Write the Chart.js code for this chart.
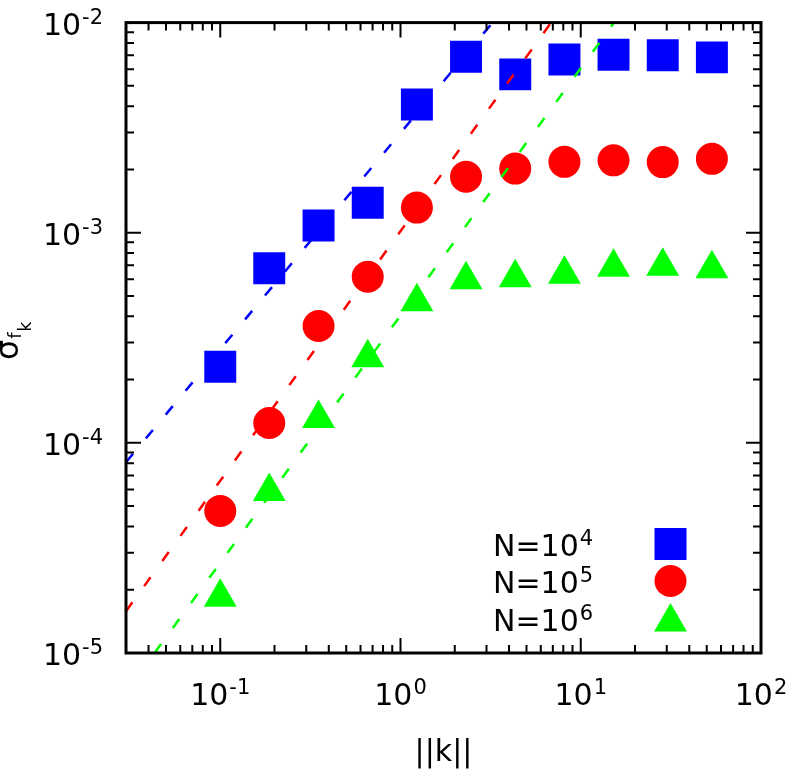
<!DOCTYPE html>
<html>
<head>
<meta charset="utf-8">
<script src="https://cdn.jsdelivr.net/npm/chart.js@4.4.1/dist/chart.umd.min.js"></script>
<style>
  body { margin: 0; background: #fff; }
  #wrap { width: 788px; height: 769px; }
</style>
</head>
<body>
<div id="wrap"><canvas id="sigmaChart" width="788" height="769"></canvas></div>
<script>
// ||k|| sample positions, shared by the three runs
const kValues = [0.1, 0.187, 0.351, 0.658, 1.233, 2.31, 4.33, 8.12, 15.2, 28.5, 53.4];

// sigma_fk for each N
const sigmaN4 = [2.30e-4, 6.78e-4, 1.083e-3, 1.39e-3, 4.08e-3, 6.88e-3, 5.67e-3, 6.68e-3, 7.03e-3, 6.99e-3, 6.83e-3];
const sigmaN5 = [4.74e-5, 1.243e-4, 3.60e-4, 6.17e-4, 1.317e-3, 1.846e-3, 2.02e-3, 2.175e-3, 2.21e-3, 2.168e-3, 2.247e-3];
const sigmaN6 = [1.84e-5, 5.87e-5, 1.307e-4, 2.54e-4, 4.70e-4, 5.98e-4, 6.11e-4, 6.35e-4, 6.85e-4, 6.93e-4, 6.74e-4];

// dashed guide lines, end points (k, sigma)
const fitN4K = [0.03, 3.24];
const fitN4S = [8.09e-5, 1e-2];
const fitN5K = [0.03, 6.85];
const fitN5S = [1.58e-5, 1e-2];
const fitN6K = [0.0432, 15.3];
const fitN6S = [1e-5, 1e-2];

// axis ticks: base "10" with an exponent
const xTickValues = [0.1, 1, 10, 100];
const xTickExps = ['-1', '0', '1', '2'];
const yTickValues = [1e-5, 1e-4, 1e-3, 1e-2];
const yTickExps = ['-5', '-4', '-3', '-2'];

// legend
const legendNames = ['N=10', 'N=10', 'N=10'];
const legendExps = ['4', '5', '6'];
const legendColors = ['#0000ff', '#ff0000', '#00ff00'];

const X_MIN = 0.03, X_MAX = 100, Y_MIN = 1e-5, Y_MAX = 1e-2;

function toPoints(xs, ys) {
    return xs.map((x, i) => ({ x: x, y: ys[i] }));
}

Chart.defaults.font.family = "'DejaVu Sans', sans-serif";
Chart.defaults.color = '#000';

const BASE_FONT = "30px 'DejaVu Sans'";
const SUP_FONT = "21px 'DejaVu Sans'";

// "10" followed by a raised exponent; align is 'center' or 'right'
function drawPower(ctx, exp, x, baseline, align) {
    ctx.font = BASE_FONT;
    const bw = ctx.measureText('10').width;
    ctx.font = SUP_FONT;
    const ew = ctx.measureText(exp).width;
    const total = bw + 1 + ew;
    const left = align === 'center' ? x - total / 2 : x - total;
    ctx.textAlign = 'left';
    ctx.font = BASE_FONT;
    ctx.fillText('10', left, baseline);
    ctx.font = SUP_FONT;
    ctx.fillText(exp, left + bw + 1, baseline - 11);
}

// inward ticks on all four sides, the frame, tick labels, axis titles and the legend
const framePlugin = {
    id: 'frame',
    afterDraw(chart) {
        const ctx = chart.ctx;
        const a = chart.chartArea;
        const xs = chart.scales.x, ys = chart.scales.y;
        ctx.save();
        ctx.strokeStyle = '#000';
        ctx.lineWidth = 2;
        ctx.beginPath();
        for (let e = -2; e <= 1; e++) {
            for (let m = 1; m <= 9; m++) {
                const v = m * Math.pow(10, e);
                if (v <= X_MIN * 1.0001 || v >= X_MAX * 0.9999) continue;
                const px = xs.getPixelForValue(v);
                const len = m === 1 ? 15 : 8;
                ctx.moveTo(px, a.bottom); ctx.lineTo(px, a.bottom - len);
                ctx.moveTo(px, a.top); ctx.lineTo(px, a.top + len);
            }
        }
        for (let e = -5; e <= -3; e++) {
            for (let m = 1; m <= 9; m++) {
                const v = m * Math.pow(10, e);
                if (v <= Y_MIN * 1.0001 || v >= Y_MAX * 0.9999) continue;
                const py = ys.getPixelForValue(v);
                const len = m === 1 ? 15 : 8;
                ctx.moveTo(a.left, py); ctx.lineTo(a.left + len, py);
                ctx.moveTo(a.right, py); ctx.lineTo(a.right - len, py);
            }
        }
        ctx.stroke();

        ctx.lineWidth = 3;
        ctx.strokeRect(a.left, a.top, a.right - a.left, a.bottom - a.top);

        ctx.fillStyle = '#000';
        ctx.textBaseline = 'alphabetic';

        // tick labels
        xTickValues.forEach((v, i) => {
            drawPower(ctx, xTickExps[i], xs.getPixelForValue(v), 705, 'center');
        });
        yTickValues.forEach((v, i) => {
            drawPower(ctx, yTickExps[i], a.left - 23, ys.getPixelForValue(v) + 12, 'right');
        });

        // x title
        ctx.font = BASE_FONT;
        ctx.textAlign = 'center';
        ctx.fillText('||k||', (a.left + a.right) / 2, 761);

        // y title: sigma with nested subscript f_k
        ctx.save();
        ctx.translate(18, 360);
        ctx.rotate(-Math.PI / 2);
        ctx.textAlign = 'left';
        ctx.font = "32px 'DejaVu Sans'";
        ctx.fillText('\u03C3', 0, 0);
        let w = ctx.measureText('\u03C3').width;
        ctx.font = "18px 'DejaVu Sans'";
        ctx.fillText('f', w + 1, 3);
        w += ctx.measureText('f').width + 2;
        ctx.font = "17px 'DejaVu Sans'";
        ctx.fillText('k', w, 13);
        ctx.restore();

        // legend
        const baselines = [556, 593, 631];
        legendNames.forEach((name, i) => {
            const yb = baselines[i];
            ctx.textAlign = 'left';
            ctx.font = BASE_FONT;
            ctx.fillText(name, 493, yb);
            const nw = ctx.measureText(name).width;
            ctx.font = SUP_FONT;
            ctx.fillText(legendExps[i], 493 + nw + 1, yb - 11);
            ctx.fillStyle = legendColors[i];
            const cx = 670.5, cy = yb - 12;
            ctx.beginPath();
            if (i === 0) {
                ctx.rect(cx - 16, cy - 16, 32, 32);
            } else if (i === 1) {
                ctx.arc(cx, cy, 16, 0, Math.PI * 2);
            } else {
                const r = 19, ty = cy + 3;
                ctx.moveTo(cx, ty - r);
                ctx.lineTo(cx + r * Math.sin(2 * Math.PI / 3), ty + r / 2);
                ctx.lineTo(cx - r * Math.sin(2 * Math.PI / 3), ty + r / 2);
                ctx.closePath();
            }
            ctx.fill();
            ctx.fillStyle = '#000';
        });
        ctx.restore();
    }
};

const dashStyle = { showLine: true, borderDash: [11, 20], borderWidth: 2.5, pointRadius: 0, fill: false };

const ctx = document.getElementById('sigmaChart').getContext('2d');
const sigmaChart = new Chart(ctx, {
    type: 'scatter',
    data: {
        datasets: [
            Object.assign({ label: 'fit N4', data: toPoints(fitN4K, fitN4S), borderColor: '#0000ff' }, dashStyle),
            Object.assign({ label: 'fit N5', data: toPoints(fitN5K, fitN5S), borderColor: '#ff0000' }, dashStyle),
            Object.assign({ label: 'fit N6', data: toPoints(fitN6K, fitN6S), borderColor: '#00ff00' }, dashStyle),
            {
                label: 'N=10^4', data: toPoints(kValues, sigmaN4),
                pointStyle: 'rect', pointRadius: 22.6, pointBorderWidth: 0,
                backgroundColor: '#0000ff', borderColor: '#0000ff'
            },
            {
                label: 'N=10^5', data: toPoints(kValues, sigmaN5),
                pointStyle: 'circle', pointRadius: 16, pointBorderWidth: 0,
                backgroundColor: '#ff0000', borderColor: '#ff0000'
            },
            {
                label: 'N=10^6', data: toPoints(kValues, sigmaN6),
                pointStyle: 'triangle', pointRadius: 19, pointBorderWidth: 0,
                backgroundColor: '#00ff00', borderColor: '#00ff00'
            }
        ]
    },
    options: {
        responsive: false,
        animation: false,
        layout: { padding: { left: 0, top: 19, right: 27, bottom: 0 } },
        plugins: {
            legend: { display: false },
            tooltip: { enabled: false }
        },
        scales: {
            x: {
                type: 'logarithmic',
                min: X_MIN,
                max: X_MAX,
                grid: { display: false, drawTicks: false },
                border: { display: false },
                ticks: { display: false },
                afterFit: (scale) => {
                    scale.height = 116;
                    scale.paddingLeft = 0; scale.paddingRight = 0;
                }
            },
            y: {
                type: 'logarithmic',
                min: Y_MIN,
                max: Y_MAX,
                grid: { display: false, drawTicks: false },
                border: { display: false },
                ticks: { display: false },
                afterFit: (scale) => {
                    scale.width = 126;
                    scale.paddingTop = 0; scale.paddingBottom = 0;
                }
            }
        }
    },
    plugins: [framePlugin]
});
</script>
</body>
</html>
